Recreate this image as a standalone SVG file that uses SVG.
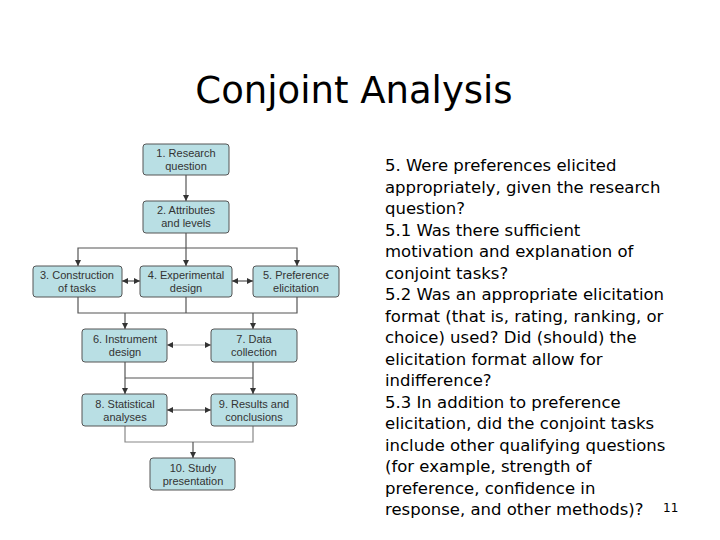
<svg xmlns="http://www.w3.org/2000/svg" width="720" height="540" viewBox="0 0 720 540">
<style>
.b{fill:#b9dfe4;stroke:#555;stroke-width:1}
.t{font-family:"Liberation Sans",Arial,sans-serif;font-size:11px;fill:#333;text-anchor:middle}
.c{fill:none;stroke:#555;stroke-width:1.2}
.r{font-family:"DejaVu Sans",sans-serif;font-size:16.5px;fill:#000}
</style>
<defs><marker id="a" viewBox="0 0 6 6" refX="6" refY="3" markerWidth="5" markerHeight="5" orient="auto-start-reverse"><path d="M0,0L6,3L0,6Z" fill="#333"/></marker></defs>
<rect width="720" height="540" fill="#fff"/>
<text x="354" y="103" font-family="DejaVu Sans,sans-serif" font-size="37" text-anchor="middle">Conjoint Analysis</text>
<g id="connectors" class="c">
<path d="M186,175V201" marker-end="url(#a)"/>
<path d="M186,233V266" marker-end="url(#a)"/>
<path d="M78,266V248H297V266" marker-start="url(#a)" marker-end="url(#a)"/>
<path d="M122,281H140" marker-start="url(#a)" marker-end="url(#a)"/>
<path d="M232,281H253" marker-start="url(#a)" marker-end="url(#a)"/>
<path d="M78,297V313H297V297M186,297V313"/>
<path d="M125,313V329" marker-end="url(#a)"/>
<path d="M253,313V329" marker-end="url(#a)"/>
<path d="M167,345H211" stroke="#aaa" marker-start="url(#a)" marker-end="url(#a)"/>
<path d="M125,362V394" marker-end="url(#a)"/>
<path d="M253,362V394" marker-end="url(#a)"/>
<path d="M125,378H253"/>
<path d="M167,410H211" marker-start="url(#a)" marker-end="url(#a)"/>
<path d="M125,426V442H253V426" stroke="#888"/>
<path d="M193,442V458" marker-end="url(#a)"/>
</g>
<g id="n1"><rect class="b" x="143" y="144" width="86" height="31" rx="3"/><text class="t" x="186" y="157">1. Research</text><text class="t" x="186" y="170">question</text></g>
<g id="n2"><rect class="b" x="143" y="201" width="86" height="32" rx="3"/><text class="t" x="186" y="214">2. Attributes</text><text class="t" x="186" y="227">and levels</text></g>
<g id="n3"><rect class="b" x="33" y="266" width="89" height="31" rx="3"/><text class="t" x="77" y="279">3. Construction</text><text class="t" x="77" y="292">of tasks</text></g>
<g id="n4"><rect class="b" x="140" y="266" width="92" height="31" rx="3"/><text class="t" x="186" y="279">4. Experimental</text><text class="t" x="186" y="292">design</text></g>
<g id="n5"><rect class="b" x="253" y="266" width="86" height="31" rx="3"/><text class="t" x="296" y="279">5. Preference</text><text class="t" x="296" y="292">elicitation</text></g>
<g id="n6"><rect class="b" x="82" y="329" width="85" height="33" rx="3"/><text class="t" x="125" y="343">6. Instrument</text><text class="t" x="125" y="356">design</text></g>
<g id="n7"><rect class="b" x="211" y="329" width="86" height="33" rx="3"/><text class="t" x="254" y="343">7. Data</text><text class="t" x="254" y="356">collection</text></g>
<g id="n8"><rect class="b" x="82" y="394" width="85" height="32" rx="3"/><text class="t" x="125" y="408">8. Statistical</text><text class="t" x="125" y="421">analyses</text></g>
<g id="n9"><rect class="b" x="211" y="394" width="86" height="32" rx="3"/><text class="t" x="254" y="408">9. Results and</text><text class="t" x="254" y="421">conclusions</text></g>
<g id="n10"><rect class="b" x="150" y="458" width="85" height="32" rx="3"/><text class="t" x="193" y="472">10. Study</text><text class="t" x="193" y="485">presentation</text></g>
<g class="r">
<text x="385" y="171">5. Were preferences elicited</text>
<text x="385" y="192.5">appropriately, given the research</text>
<text x="385" y="214">question?</text>
<text x="385" y="235.5">5.1 Was there sufficient</text>
<text x="385" y="257">motivation and explanation of</text>
<text x="385" y="278.5">conjoint tasks?</text>
<text x="385" y="300">5.2 Was an appropriate elicitation</text>
<text x="385" y="321.5">format (that is, rating, ranking, or</text>
<text x="385" y="343">choice) used? Did (should) the</text>
<text x="385" y="364.5">elicitation format allow for</text>
<text x="385" y="386">indifference?</text>
<text x="385" y="407.5">5.3 In addition to preference</text>
<text x="385" y="429">elicitation, did the conjoint tasks</text>
<text x="385" y="450.5">include other qualifying questions</text>
<text x="385" y="472">(for example, strength of</text>
<text x="385" y="493.5">preference, confidence in</text>
<text x="385" y="515">response, and other methods)?</text>
</g>
<text x="663" y="512" font-family="DejaVu Sans,sans-serif" font-size="12">11</text>
</svg>
